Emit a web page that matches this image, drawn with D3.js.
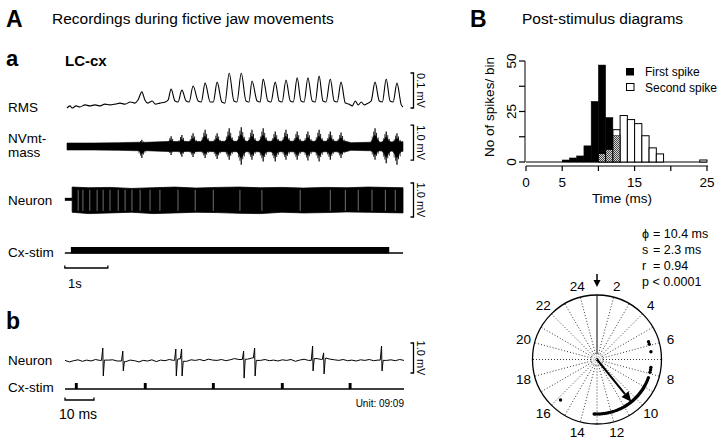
<!DOCTYPE html>
<html><head><meta charset="utf-8">
<script src="https://cdn.jsdelivr.net/npm/d3@7"></script>
<style>
body{margin:0;background:#fff}
svg{display:block}
text{font-family:"Liberation Sans",Arial,Helvetica,sans-serif;fill:#000}
</style>
</head><body>
<svg id="c" width="720" height="439"></svg>
<script>
// ---------------- DATA ----------------
// Panel A a: RMS trace [time s, mV]
const rmsTrace = [
 [0,0],[0.07,.006],[0.12,0],[0.21,.006],[0.30,.003],[0.42,.009],[0.53,.006],[0.65,.009],[0.77,.006],[0.88,.011],
 [1.00,.009],[1.12,.011],[1.23,.014],[1.35,.011],[1.47,.017],[1.58,.014],[1.65,.023],[1.74,.046],[1.81,.023],[1.88,.014],
 [1.98,.020],[2.05,.011],[2.16,.014],[2.28,.017],[2.35,.023],[2.42,.054],[2.51,.020],[2.58,.017],[2.67,.051],[2.77,.020],
 [2.84,.017],[2.93,.063],[3.05,.020],[3.12,.017],[3.21,.071],[3.33,.017],[3.40,.017],[3.49,.074],[3.60,.017],[3.67,.014],
 [3.77,.100],[3.88,.020],[3.95,.017],[4.05,.100],[4.16,.020],[4.23,.017],[4.30,.077],[4.42,.020],[4.49,.017],[4.56,.083],
 [4.67,.020],[4.74,.017],[4.84,.074],[4.93,.020],[5.00,.017],[5.09,.080],[5.19,.020],[5.26,.017],[5.35,.086],[5.44,.020],
 [5.51,.017],[5.60,.086],[5.70,.020],[5.77,.017],[5.86,.091],[5.95,.020],[6.02,.017],[6.12,.083],[6.21,.020],[6.28,.017],
 [6.37,.074],[6.47,.014],[6.56,.011],[6.63,.006],[6.70,.020],[6.77,.009],[6.84,.017],[6.91,.009],[7.00,.014],[7.07,.020],
 [7.16,.074],[7.26,.020],[7.33,.017],[7.42,.083],[7.51,.020],[7.58,.017],[7.67,.071],[7.77,.009],[7.81,.003]
];
// NVmt-mass: background envelope [time s, half amplitude mV] and bursts
const massBase = [[0,.10],[0.6,.10],[1.2,.11],[1.7,.12],[2.3,.14],[4.0,.15],[6.45,.15],[6.6,.11],[7.0,.12],[7.81,.14]];
const massBurstT    = [1.74,2.42,2.67,2.93,3.21,3.49,3.77,4.05,4.30,4.56,4.84,5.09,5.35,5.60,5.86,6.12,6.37,7.16,7.42,7.67];
const massBurstUp   = [.19,.29,.33,.38,.48,.38,.52,.55,.48,.52,.43,.48,.43,.43,.48,.43,.40,.52,.43,.38];
const massBurstDown = [.33,.24,.29,.30,.33,.36,.38,.52,.38,.43,.43,.38,.38,.40,.43,.38,.33,.38,.48,.52];
// Neuron (a): envelope [time s, top mV, bottom mV] and lighter gaps
const neuronEnv = [[0.12,.38,-.36],[0.5,.36,-.40],[1.0,.37,-.38],[1.5,.34,-.36],[2.0,.36,-.40],[2.5,.38,-.38],[3.0,.35,-.36],
 [3.5,.37,-.37],[4.0,.38,-.39],[4.5,.36,-.40],[5.0,.37,-.36],[5.5,.35,-.38],[6.0,.37,-.37],[6.5,.36,-.35],[7.0,.38,-.36],[7.81,.36,-.38]];
const neuronGapT = [0.26,0.37,0.53,0.70,0.84,1.00,1.19,1.35,1.51,1.70,1.93,2.16,2.58,2.98,3.40,4.02,4.53,5.42,6.12,6.47,6.77,7.09,7.40,7.63];
// Cortical stimulation train (a): on / off time (s)
const stimTrainA = [0.09, 7.49];
// Panel b: neuron trace noise (mV, sampled every 1.5 ms), spikes, stimuli
const bNoise = [
 0.02,-0.03,0.01,0.04,-0.01,0.03,0.00,0.05,0.02,0.06,
 0.03,0.04,0.00,0.05,-0.02,0.03,0.01,-0.03,0.02,0.00,
 0.04,-0.02,0.03,0.01,0.05,0.02,0.07,0.03,-0.01,0.04,
 0.02,0.05,0.01,0.06,0.03,0.02,0.05,0.01,0.04,0.08,
 0.05,0.09,0.06,0.10,0.04,0.02,0.05,0.01,0.03,0.00,
 0.04,0.02,0.05,-0.01,0.03,0.06,0.02,0.04,0.08,0.05,
 0.10,0.06,0.04,0.02,0.05,0.01,0.03,0.00,0.04,0.02,
 0.05,0.01,0.03,0.06,0.02,0.04,0.01,0.05,0.02
];
const bSpikeT    = [13.1,20.0,38.3,40.3,61.7,65.5,85.5,89.3,109.3];
const bSpikeUp   = [.43,.33,.40,.40,.33,.43,.50,.27,.50];
const bSpikeDown = [.50,.33,.50,.50,.57,.50,.33,.43,.33];
const bStimT = [3.4,27.2,50.7,74.5,97.9];
// Panel B: post-stimulus histogram (1 ms bins)
const firstBins = [5,6,7,8,9,10,11,12];
const firstCounts = [1,2,3,8,30,48,22,13];
const secondBins = [10,11,12,13,14,15,16,17,18,24];
const secondCounts = [4,6,16,23,21,19,13,7,4,1];
const xTicks = [0,5,10,15,20,25];
const xTickLabels = ["0","5","","15","","25"];
const yTicks = [0,12.5,25,37.5,50];
const yTickLabels = ["0","","25","","50"];
// Polar diagram
const dialLabels = [2,4,6,8,10,12,14,16,18,20,22,24];
const spikeLatencies = [5.73,5.91,6.45,7.56,7.72,7.9,
 8.3,8.45,8.6,8.75,8.9,9.0,9.1,9.2,9.3,9.4,9.5,9.6,9.7,9.8,9.9,10.0,10.1,10.2,10.3,10.4,10.5,10.6,10.7,10.8,10.9,
 11.0,11.15,11.3,11.45,11.6,11.75,11.9,12.05,12.2,12.35,12.5,12.65,12.8,12.95,13.1,13.2,15.8];
const statSymbols = ["\u03D5","s","r"];
const statValues = ["= 10.4 ms","= 2.3 ms","= 0.94"];
const pText = "p < 0.0001";
const phiMs = 10.4, rVal = 0.94;

// ---------------- DRAW ----------------
const svg = d3.select("#c");
svg.append("rect").attr("width",720).attr("height",439).attr("fill","#fff");
const T = (x,y,s,opts={}) => {
  const t = svg.append("text").attr("x",x).attr("y",y).text(s).style("font-size",(opts.size||13.5)+"px");
  if(opts.bold) t.style("font-weight","bold");
  if(opts.anchor) t.attr("text-anchor",opts.anchor);
  if(opts.rot!==undefined) t.attr("transform",`rotate(${opts.rot},${x},${y})`);
  if(opts.db) t.attr("dominant-baseline",opts.db);
  return t;
};

// headers
T(6,27,"A",{bold:true,size:23});
T(52,24,"Recordings during fictive jaw movements",{size:15.5});
T(470,27,"B",{bold:true,size:23});
T(522,24,"Post-stimulus diagrams",{size:15.5});
T(6,66,"a",{bold:true,size:22});
T(65,66,"LC-cx",{bold:true,size:15});
T(6,329,"b",{bold:true,size:23});

// row labels
T(8,112,"RMS"); T(8,143,"NVmt-"); T(8,157,"mass"); T(8,205,"Neuron"); T(8,257,"Cx-stim");
T(8,365,"Neuron"); T(8,392,"Cx-stim");

const xA = d3.scaleLinear().domain([0,7.81]).range([67,403]);
// RMS
const yR = d3.scaleLinear().domain([0,0.1]).range([108,73]);
svg.append("path").attr("d", d3.line().x(d=>xA(d[0])).y(d=>yR(d[1])).curve(d3.curveMonotoneX)(rmsTrace))
  .attr("fill","none").attr("stroke","#000").attr("stroke-width",1.1);

// NVmt-mass
const yM = d3.scaleLinear().domain([-0.5,0.5]).range([164,129]);
const baseAmp = d3.scaleLinear().domain(massBase.map(d=>d[0])).range(massBase.map(d=>d[1])).clamp(true);
let env = massBase.filter(d=>!massBurstT.some(t=>Math.abs(t-d[0])<0.12)).map(d=>({t:d[0],up:d[1],dn:d[1]}));
massBurstT.forEach((t,i)=>{
  const b = baseAmp(t), u = massBurstUp[i], w = massBurstDown[i];
  env.push({t:t-0.1,up:b,dn:b},{t:t-0.05,up:Math.max(b,u*0.42),dn:Math.max(b,w*0.42)},
    {t:t-0.015,up:u*0.62,dn:w*0.62},{t:t+0.025,up:u*0.55,dn:w*0.55},
    {t:t+0.06,up:Math.max(b,u*0.38),dn:Math.max(b,w*0.38)},{t:t+0.11,up:b,dn:b});
});
env.sort((a,b)=>a.t-b.t);
svg.append("path").attr("d", d3.area().x(d=>xA(d.t)).y0(d=>yM(-d.dn)).y1(d=>yM(d.up))(env))
  .attr("fill","#000").attr("stroke","#000").attr("stroke-width",0.6);
massBurstT.forEach((t,i)=>{
  [[0,1,1,1.2],[-0.03,0.82,0.78,0.9],[0.035,0.75,0.7,0.9],[-0.065,0.55,0.6,0.7],[0.075,0.5,0.55,0.7]].forEach(([dt,fu,fd,sw])=>{
    svg.append("line").attr("x1",xA(t+dt)).attr("x2",xA(t+dt))
      .attr("y1",yM(massBurstUp[i]*fu)).attr("y2",yM(-massBurstDown[i]*fd))
      .attr("stroke","#000").attr("stroke-width",sw);
  });
});

// Neuron (a)
const yN = d3.scaleLinear().domain([-0.5,0.5]).range([217,183]);
svg.append("line").attr("x1",xA(-0.05)).attr("x2",xA(0.13)).attr("y1",yN(0.02)).attr("y2",yN(0.02))
  .attr("stroke","#000").attr("stroke-width",3);
svg.append("path").attr("d", d3.area().x(d=>xA(d[0])).y0(d=>yN(d[2])).y1(d=>yN(d[1]))(neuronEnv))
  .attr("fill","#000").attr("stroke","#000").attr("stroke-width",0.8);
neuronGapT.forEach(t=>{
  svg.append("line").attr("x1",xA(t)).attr("x2",xA(t)).attr("y1",yN(0.3)).attr("y2",yN(-0.32))
    .attr("stroke","#8a8a8a").attr("stroke-width",0.8);
});

// Cx-stim (a)
svg.append("line").attr("x1",xA(-0.05)).attr("x2",xA(7.81)).attr("y1",253).attr("y2",253)
  .attr("stroke","#000").attr("stroke-width",1.3);
svg.append("rect").attr("x",xA(stimTrainA[0])).attr("width",xA(stimTrainA[1])-xA(stimTrainA[0]))
  .attr("y",247).attr("height",6.5).attr("fill","#000");

// scale bar 1 s
const sbar = (x0,x1,y) => svg.append("path").attr("d",`M${x0},${y-2.5}V${y}H${x1}V${y-2.5}`)
  .attr("fill","none").attr("stroke","#000").attr("stroke-width",1.3);
sbar(xA(-0.05), xA(0.95), 268);
T(68,288,"1s",{size:13});

// brackets
const bracket = (y0,y1,label) => {
  svg.append("path").attr("d",`M410.5,${y0}H413.5V${y1}H410.5`).attr("fill","none").attr("stroke","#000").attr("stroke-width",1.3);
  T(421,(y0+y1)/2,label,{size:11,anchor:"middle",rot:90,db:"central"});
};
bracket(yR(0.1), yR(0), "0.1 mV");
bracket(yM(0.61), yM(-0.39), "1.0 mV");
bracket(yN(0.5), yN(-0.5), "1.0 mV");

// Panel b
const xB = d3.scaleLinear().domain([0,117]).range([65,404]);
const yB = d3.scaleLinear().domain([-0.5,0.5]).range([376,346]);
const noiseAt = t => bNoise[Math.min(bNoise.length-1, Math.round(t/1.5))];
let bPts = bNoise.map((v,i)=>[i*1.5,v]).filter(p=>!bSpikeT.some(t=>Math.abs(t-p[0])<0.7));
bSpikeT.forEach((t,i)=>{
  bPts.push([t-0.5,noiseAt(t-1.5)],[t-0.05,bSpikeUp[i]],[t+0.12,-bSpikeDown[i]],[t+0.5,noiseAt(t+1.5)]);
});
bPts.sort((a,b)=>a[0]-b[0]);
svg.append("path").attr("d", d3.line().x(d=>xB(d[0])).y(d=>yB(d[1]))(bPts))
  .attr("fill","none").attr("stroke","#000").attr("stroke-width",1);
const yB1 = yB(0.6), yB0 = yB(-0.4);
svg.append("path").attr("d",`M410.5,${yB1}H413.5V${yB0}H410.5`).attr("fill","none").attr("stroke","#000").attr("stroke-width",1.3);
T(421,(yB0+yB1)/2,"1.0 mV",{size:11,anchor:"middle",rot:90,db:"central"});
svg.append("line").attr("x1",xB(0)).attr("x2",xB(117)).attr("y1",389).attr("y2",389).attr("stroke","#000").attr("stroke-width",1.4);
bStimT.forEach(t=>{
  svg.append("rect").attr("x",xB(t)).attr("width",xB(t+1)-xB(t)).attr("y",383).attr("height",6).attr("fill","#000");
});
sbar(xB(0), xB(10), 400);
T(78,419,"10 ms",{size:14,anchor:"middle"});
T(404,407,"Unit: 09:09",{size:10,anchor:"end"});

// ---------------- Histogram ----------------
const xH = d3.scaleLinear().domain([0,25]).range([526,707]);
const yH = d3.scaleLinear().domain([0,50]).range([162,61]);
const defs = svg.append("defs");
const pat = defs.append("pattern").attr("id","hatch").attr("width",2).attr("height",2).attr("patternUnits","userSpaceOnUse");
pat.append("rect").attr("width",2).attr("height",2).attr("fill","#d8d8d8");
pat.append("rect").attr("width",1).attr("height",1).attr("fill","#444");
pat.append("rect").attr("x",1).attr("y",1).attr("width",1).attr("height",1).attr("fill","#444");

svg.append("line").attr("x1",xH(0)).attr("x2",xH(25)).attr("y1",yH(0)).attr("y2",yH(0)).attr("stroke","#000").attr("stroke-width",1);
secondBins.forEach((b,i)=>{
  svg.append("rect").attr("x",xH(b)).attr("width",xH(b+1)-xH(b)).attr("y",yH(secondCounts[i]))
    .attr("height",yH(0)-yH(secondCounts[i])).attr("fill","#fff").attr("stroke","#000").attr("stroke-width",1);
});
firstBins.forEach((b,i)=>{
  svg.append("rect").attr("x",xH(b)).attr("width",xH(b+1)-xH(b)).attr("y",yH(firstCounts[i]))
    .attr("height",yH(0)-yH(firstCounts[i])).attr("fill","#000").attr("stroke","#000").attr("stroke-width",0.5);
  const j = secondBins.indexOf(b);
  if(j>=0){
    const m = Math.min(firstCounts[i],secondCounts[j]);
    svg.append("rect").attr("x",xH(b)+0.5).attr("width",xH(b+1)-xH(b)-1).attr("y",yH(m))
      .attr("height",yH(0)-yH(m)-0.5).attr("fill","url(#hatch)");
  }
});
// x axis
svg.append("line").attr("x1",xH(0)).attr("x2",xH(25)+1).attr("y1",166).attr("y2",166).attr("stroke","#000").attr("stroke-width",1.2);
xTicks.forEach((v,i)=>{
  svg.append("line").attr("x1",xH(v)).attr("x2",xH(v)).attr("y1",166).attr("y2",171).attr("stroke","#000").attr("stroke-width",1.2);
  if(xTickLabels[i]) T(xH(v),187,xTickLabels[i],{size:13.5,anchor:"middle"});
});
T(622,203,"Time (ms)",{size:13.5,anchor:"middle"});
// y axis
svg.append("line").attr("x1",525).attr("x2",525).attr("y1",yH(50)).attr("y2",yH(0)).attr("stroke","#000").attr("stroke-width",1);
yTicks.forEach((v,i)=>{
  svg.append("line").attr("x1",519).attr("x2",525).attr("y1",yH(v)).attr("y2",yH(v)).attr("stroke","#000").attr("stroke-width",1.2);
  if(yTickLabels[i]) T(511,yH(v),yTickLabels[i],{size:13.5,anchor:"middle",rot:-90,db:"central"});
});
T(489,107,"No of spikes/ bin",{size:13.5,anchor:"middle",rot:-90,db:"central"});
// legend
svg.append("rect").attr("x",626).attr("y",68).attr("width",8).attr("height",7.5).attr("fill","#000");
svg.append("rect").attr("x",626.5).attr("y",83.5).attr("width",7.5).attr("height",7).attr("fill","#fff").attr("stroke","#000");
T(645,76,"First spike",{size:12});
T(645,91.5,"Second spike",{size:12});

// ---------------- Polar diagram ----------------
const cx = 597, cy = 359.5, R = 64.5;
const ang = d3.scaleLinear().domain([1,25]).range([0,2*Math.PI]);
const P = (a,r) => [cx + r*Math.sin(a), cy - r*Math.cos(a)];
d3.range(1,25).forEach(t=>{
  const a = ang(t), p = P(a,R);
  svg.append("line").attr("x1",cx).attr("y1",cy).attr("x2",p[0]).attr("y2",p[1])
    .attr("stroke","#000").attr("stroke-width",t===1?1:0.8).attr("stroke-dasharray",t===1?null:"1,2");
});
svg.append("circle").attr("cx",cx).attr("cy",cy).attr("r",R).attr("fill","none").attr("stroke","#000").attr("stroke-width",1.3);
svg.append("circle").attr("cx",cx).attr("cy",cy).attr("r",5.5).attr("fill","#fff").attr("stroke","#666").attr("stroke-width",0.8).attr("stroke-dasharray","1,1");
svg.append("circle").attr("cx",cx).attr("cy",cy).attr("r",3.3).attr("fill","none").attr("stroke","#666").attr("stroke-width",0.8).attr("stroke-dasharray","1,1");
svg.append("circle").attr("cx",cx).attr("cy",cy).attr("r",1.3).attr("fill","none").attr("stroke","#000").attr("stroke-width",0.8);
dialLabels.forEach(k=>{
  const p = P(ang(k), 76);
  T(p[0],p[1],String(k),{size:13.5,anchor:"middle",db:"central"});
});
spikeLatencies.forEach(t=>{
  const p = P(ang(t), 54.5);
  svg.append("circle").attr("cx",p[0]).attr("cy",p[1]).attr("r",1.7).attr("fill","#000");
});
// mean vector arrow
{
  const a = ang(phiMs), L = rVal*58;
  const tip = P(a,L), base = P(a,L-10);
  const l1 = [base[0]+4.5*Math.cos(a), base[1]+4.5*Math.sin(a)];
  const l2 = [base[0]-4.5*Math.cos(a), base[1]-4.5*Math.sin(a)];
  svg.append("line").attr("x1",cx).attr("y1",cy).attr("x2",base[0]).attr("y2",base[1]).attr("stroke","#000").attr("stroke-width",2);
  svg.append("path").attr("d",`M${tip[0]},${tip[1]}L${l1[0]},${l1[1]}L${l2[0]},${l2[1]}Z`).attr("fill","#000");
}
// stimulus arrow
svg.append("line").attr("x1",cx).attr("x2",cx).attr("y1",274).attr("y2",281).attr("stroke","#000").attr("stroke-width",1.5);
svg.append("path").attr("d",`M${cx-3.5},280L${cx+3.5},280L${cx},287Z`).attr("fill","#000");
// stats
statSymbols.forEach((s,i)=>{
  T(642,237.5+16*i,s,{size:12.5});
  T(653,237.5+16*i,statValues[i],{size:12.5});
});
T(642,285.5,pText,{size:12.5});
</script>
</body></html>
